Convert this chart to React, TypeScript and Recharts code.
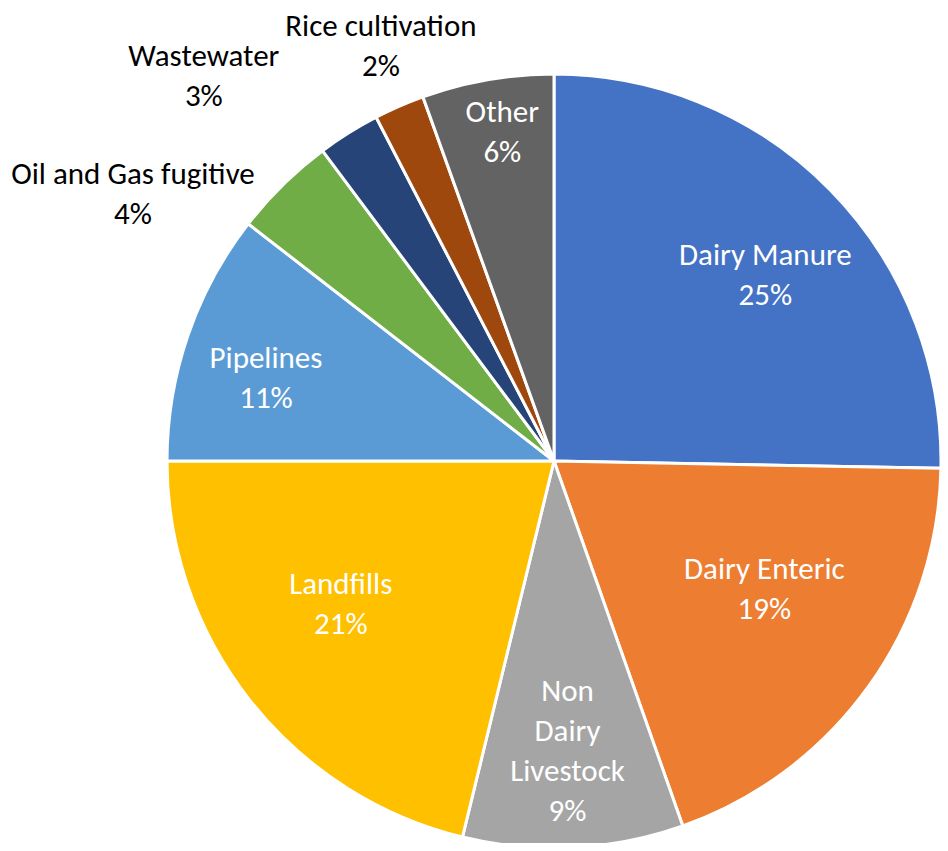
import { PieChart, Pie, Cell } from "recharts";

// share of emissions, percent
const sources = [
  "Dairy Manure",
  "Dairy Enteric",
  "Non Dairy Livestock",
  "Landfills",
  "Pipelines",
  "Oil and Gas fugitive",
  "Wastewater",
  "Rice cultivation",
  "Other",
];
const shares = [25.3, 19.3, 9.2, 21.2, 10.5, 4.3, 2.6, 2.1, 5.5];

const colors = [
  "#4472C4",
  "#ED7D31",
  "#A5A5A5",
  "#FFC000",
  "#5B9BD5",
  "#70AD47",
  "#264478",
  "#9E480E",
  "#636363",
];

// label placement: radius as a fraction of the pie radius, and angle nudge (deg)
const labelRadius = [0.73, 0.635, 0.747, 0.662, 0.775, 1.289, 1.346, 1.165, 0.863];
const labelShift = [-2.9, 4.7, -0.2, -4.5, 2.7, 13.1, 10.2, -1.0, -1.0];
const outside = [false, false, false, false, false, true, true, true, false];

const data = sources.map((name, i) => ({ name, value: shares[i] }));

const RAD = Math.PI / 180;
const FONT = "Carlito, 'Open Sans', sans-serif";
const LINE = 40;

function renderLabel(props: any) {
  const { cx, cy, midAngle, outerRadius, index, value, name } = props;
  const r = outerRadius * labelRadius[index];
  const a = midAngle + labelShift[index];
  const x = cx + r * Math.cos(-a * RAD);
  const y = cy + r * Math.sin(-a * RAD);
  const lines =
    name === "Non Dairy Livestock" ? ["Non", "Dairy", "Livestock"] : [name];
  lines.push(Math.round(value) + "%");
  const top = y - ((lines.length - 1) * LINE) / 2;
  return (
    <text
      key={`lbl-${index}`}
      x={x}
      y={top}
      textAnchor="middle"
      dominantBaseline="central"
      fill={outside[index] ? "#000000" : "#FFFFFF"}
      fontFamily={FONT}
      fontSize={31}
    >
      {lines.map((t, j) => (
        <tspan key={j} x={x} y={top + j * LINE}>
          {t}
        </tspan>
      ))}
    </text>
  );
}

export default function App() {
  return (
    <div style={{ margin: -8, width: 948, height: 851, background: "#fff" }}>
      <PieChart
        width={948}
        height={851}
        margin={{ top: 0, right: 0, bottom: 0, left: 0 }}
      >
        <Pie
          data={data}
          dataKey="value"
          nameKey="name"
          cx={554}
          cy={461}
          outerRadius={387}
          startAngle={90}
          endAngle={-270}
          stroke="#FFFFFF"
          strokeWidth={3}
          label={renderLabel}
          labelLine={false}
          isAnimationActive={false}
        >
          {data.map((d, i) => (
            <Cell key={d.name} fill={colors[i]} />
          ))}
        </Pie>
      </PieChart>
    </div>
  );
}
